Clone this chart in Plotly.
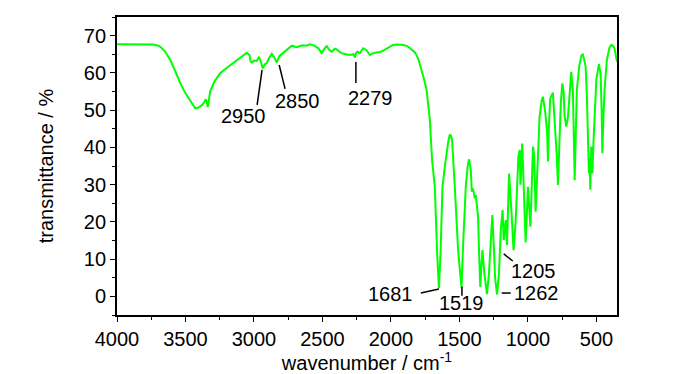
import plotly.graph_objects as go

# IR spectrum
wavenumber = [
    4000, 3900, 3800, 3735, 3700, 3684, 3650, 3612, 3575, 3539, 3500, 3466, 3440, 3429, 3405,
    3378, 3360, 3351, 3344, 3337, 3328, 3320, 3290, 3247, 3200, 3152, 3100, 3052, 3033, 3024,
    3016, 3000, 2980, 2963, 2950, 2936, 2920, 2907, 2890, 2870, 2850, 2834, 2815, 2786, 2760,
    2724, 2700, 2688, 2650, 2620, 2591, 2560, 2530, 2506, 2485, 2469, 2450, 2433, 2410, 2396,
    2380, 2360, 2330, 2299, 2275, 2263, 2255, 2245, 2227, 2203, 2178, 2165, 2154, 2130, 2105,
    2080, 2057, 2020, 1984, 1950, 1911, 1880, 1850, 1825, 1802, 1777, 1760, 1740, 1716, 1700,
    1680, 1663, 1650, 1638, 1624, 1607, 1595, 1582, 1571, 1562, 1554, 1545, 1534, 1510, 1485,
    1474, 1454, 1440, 1430, 1417, 1410, 1401, 1388, 1381, 1370, 1364, 1357, 1348, 1340, 1332,
    1318, 1299, 1285, 1270, 1260, 1250, 1240, 1226, 1212, 1198, 1185, 1177, 1162, 1153, 1138,
    1121, 1105, 1090, 1070, 1060, 1055, 1042, 1030, 1017, 1000, 990, 982, 963, 955, 944,
    930, 915, 900, 891, 880, 873, 860, 854, 848, 837, 818, 805, 798, 790, 781,
    775, 769, 760, 749, 740, 732, 720, 708, 695, 684, 672, 665, 659, 650, 643,
    625, 610, 599, 588, 579, 570, 562, 555, 550, 545, 538, 530, 521, 510, 501,
    482, 470, 462, 457, 450, 441, 424, 405, 392, 378, 368, 358, 350,
]
transmittance = [
    67.7, 67.7, 67.7, 67.6, 67.3, 67.0, 65.8, 63.5, 60.5, 57.3, 54.5, 52.4, 51.0, 50.5, 50.7,
    51.4, 52.3, 52.9, 52.0, 50.8, 53.0, 55.0, 57.6, 59.9, 61.3, 62.6, 64.0, 65.4, 64.8, 63.0,
    62.8, 63.3, 63.2, 64.3, 63.0, 61.2, 62.3, 62.6, 64.0, 65.1, 64.0, 62.8, 64.5, 65.4, 66.3,
    67.3, 67.0, 66.9, 67.4, 67.3, 67.7, 67.3, 66.6, 65.3, 66.5, 67.2, 66.2, 65.7, 66.5, 66.3,
    65.8, 65.3, 65.0, 64.8, 65.0, 64.1, 65.4, 65.7, 65.3, 66.6, 66.1, 65.5, 64.8, 65.3, 65.4,
    65.6, 66.0, 66.8, 67.5, 67.6, 67.5, 67.2, 66.3, 65.5, 63.9, 60.8, 58.5, 55.4, 47.3, 36.6,
    29.4, 11.6, 2.2, 11.6, 29.4, 34.8, 38.4, 41.5, 43.3, 43.2, 42.0, 37.0, 29.4, 12.4, 2.3,
    13.3, 29.4, 35.0, 36.8, 33.9, 28.1, 29.0, 26.3, 27.2, 24.0, 21.4, 12.0, 2.5, 8.0, 12.4,
    6.0, 0.6, 6.0, 18.0, 21.8, 14.0, 5.0, 0.5, 6.0, 18.0, 23.2, 15.1, 20.5, 13.8, 33.0,
    23.2, 12.4, 20.0, 37.5, 39.3, 30.0, 41.0, 27.0, 14.5, 29.4, 24.0, 18.7, 40.2, 38.0, 22.7,
    35.0, 48.2, 52.5, 53.6, 51.0, 49.1, 44.0, 36.2, 45.0, 53.2, 54.7, 48.2, 42.9, 38.0, 29.9,
    36.0, 42.0, 52.0, 57.2, 55.0, 48.2, 45.6, 48.2, 56.0, 60.3, 55.4, 45.0, 31.2, 45.0, 55.4,
    62.0, 64.6, 65.1, 63.5, 61.7, 54.0, 42.0, 33.0, 37.0, 28.6, 40.2, 33.0, 42.0, 52.0, 58.1,
    62.4, 59.9, 50.0, 38.4, 47.0, 55.4, 63.5, 66.8, 67.5, 67.2, 66.5, 64.5, 63.0,
]

# peak labels
peak_labels = ["2950", "2850", "2279", "1681", "1519", "1262", "1205"]
label_x = [3078, 2686, 2147, 1825, 1482, 1119, 958]
label_y = [48.4, 52.4, 53.3, 0.6, -1.9, 0.9, 6.8]
label_anchor = ["center", "center", "center", "right", "center", "left", "center"]
# leader lines: (x0, y0, x1, y1)
lead_x0 = [2941, 2816, 2256, 1782, 1482, 1192, 1177]
lead_y0 = [60.8, 62.1, 62.9, 0.9, 2.6, 0.9, 11.4]
lead_x1 = [2977, 2773, 2256, 1650, 1482, 1126, 1111]
lead_y1 = [51.4, 55.7, 57.3, 2.0, 0.2, 0.9, 9.5]

FONT = "Liberation Sans, Arial, sans-serif"
FS = 20

fig = go.Figure()
fig.add_trace(go.Scatter(
    x=wavenumber, y=transmittance, mode="lines",
    line=dict(color="#00ff00", width=2), showlegend=False,
))

for x0, y0, x1, y1 in zip(lead_x0, lead_y0, lead_x1, lead_y1):
    fig.add_shape(type="line", x0=x0, y0=y0, x1=x1, y1=y1, xref="x", yref="y",
                  line=dict(color="black", width=1.5))

for t, x, y, a in zip(peak_labels, label_x, label_y, label_anchor):
    fig.add_annotation(x=x, y=y, text=t, showarrow=False, xanchor=a, yanchor="middle",
                       font=dict(family=FONT, size=FS, color="black"))

axis_common = dict(
    showline=True, mirror=True, linecolor="black", linewidth=1.8,
    showgrid=False, zeroline=False, ticks="outside", ticklen=5, tickwidth=1.3,
    tickcolor="black", tickfont=dict(family=FONT, size=FS, color="black"),
    automargin=False,
)

fig.update_xaxes(
    range=[4000, 350], tickmode="array", tickvals=[4000, 3500, 3000, 2500, 2000, 1500, 1000, 500],
    minor=dict(ticks="outside", ticklen=3, dtick=250, tick0=0, tickcolor="black", tickwidth=1.3),
    title=dict(text="wavenumber / cm<sup>-1</sup>", font=dict(family=FONT, size=FS, color="black"), standoff=5),
    **axis_common,
)
fig.update_yaxes(
    range=[-5, 75], tick0=0, dtick=10,
    minor=dict(ticks="outside", ticklen=3, dtick=5, tick0=0, tickcolor="black", tickwidth=1.3),
    title=dict(text="transmittance / %", font=dict(family=FONT, size=FS, color="black"), standoff=25),
    **axis_common,
)

# the page adds an 8px body margin, so the figure is sized/offset to compensate
fig.update_layout(
    width=692, height=366, autosize=False,
    margin=dict(l=109, r=83, t=9, b=59),
    plot_bgcolor="white", paper_bgcolor="white",
)

fig.write_html("out.html")
